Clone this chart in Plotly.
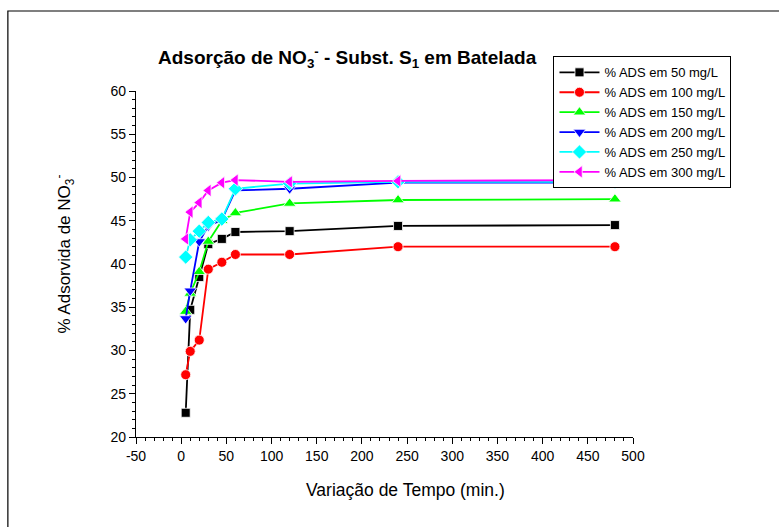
import plotly.graph_objects as go

# Data
tempo = [5, 10, 20, 30, 45, 60, 120, 240, 480]
ads_50 = [22.8, 34.7, 38.5, 42.3, 42.9, 43.7, 43.8, 44.4, 44.5]
ads_100 = [27.2, 29.9, 31.2, 39.4, 40.2, 41.1, 41.1, 42.0, 42.0]
ads_150 = [34.5, 36.6, 39.1, 42.6, 45.0, 45.9, 47.0, 47.4, 47.5]
ads_200 = [33.7, 36.9, 42.6, 44.4, 45.1, 48.5, 48.7, 49.4, 49.4]
ads_250 = [40.8, 42.8, 43.8, 44.8, 45.2, 48.7, 49.3, 49.5, 49.5]
ads_300 = [42.9, 46.0, 47.1, 48.5, 49.4, 49.7, 49.5, 49.6, 49.7]

series_names = ["% ADS em 50 mg/L", "% ADS em 100 mg/L", "% ADS em 150 mg/L",
                "% ADS em 200 mg/L", "% ADS em 250 mg/L", "% ADS em 300 mg/L"]
series_values = [ads_50, ads_100, ads_150, ads_200, ads_250, ads_300]
colors = ["#000000", "#FF0000", "#00FF00", "#0000FF", "#00FFFF", "#FF00FF"]
symbols = ["square", "circle", "triangle-up", "triangle-down", "diamond", "triangle-left"]
sizes = [9, 10, 11, 11, 11, 11]

x_tick_vals = [-50, 0, 50, 100, 150, 200, 250, 300, 350, 400, 450, 500]
x_tick_text = ["-50", "0", "50", "100", "150", "200", "250", "300", "350", "400", "450", "500"]
y_tick_vals = [20, 25, 30, 35, 40, 45, 50, 55, 60]

FONT = "Liberation Sans, Arial, sans-serif"

fig = go.Figure()
for name, vals, col, sym, sz in zip(series_names, series_values, colors, symbols, sizes):
    fig.add_trace(go.Scatter(
        x=tempo, y=vals, name=name, mode="lines+markers",
        line=dict(color=col, width=1.8),
        marker=dict(symbol=sym, size=sz, color=col, line=dict(color="white", width=0.8)),
    ))

axis_common = dict(
    showline=True, linecolor="black", linewidth=1.3, mirror=False,
    ticks="outside", ticklen=6, tickwidth=1.2, tickcolor="black",
    showgrid=False, zeroline=False,
    tickfont=dict(family=FONT, size=14, color="black"),
)

fig.update_xaxes(range=[-50, 500], tickmode="array", tickvals=x_tick_vals, ticktext=x_tick_text,
                 minor=dict(ticks="outside", ticklen=3, dtick=10, tick0=0, tickcolor="black", tickwidth=1),
                 **axis_common)
fig.update_yaxes(range=[20, 60], tickmode="array", tickvals=y_tick_vals,
                 minor=dict(ticks="outside", ticklen=3, dtick=1, tick0=0, tickcolor="black", tickwidth=1),
                 **axis_common)

fig.update_layout(
    width=779, height=527,
    margin=dict(l=136, r=146, t=91, b=90),
    paper_bgcolor="white", plot_bgcolor="white",
    showlegend=True,
    legend=dict(
        x=0.840, y=1.10, xanchor="left", yanchor="top",
        bordercolor="black", borderwidth=1, bgcolor="white",
        font=dict(family=FONT, size=13, color="black"),
        itemwidth=40, tracegroupgap=0,
    ),
    annotations=[
        dict(text="<b>Adsorção de NO<sub>3</sub><sup>-</sup> - Subst. S<sub>1</sub> em Batelada</b>",
             xref="paper", yref="paper", x=0.426, y=1.098, xanchor="center", yanchor="middle",
             showarrow=False, font=dict(family=FONT, size=19, color="black")),
        dict(text="Variação de Tempo (min.)",
             xref="paper", yref="paper", x=0.542, y=-0.153, xanchor="center", yanchor="middle",
             showarrow=False, font=dict(family=FONT, size=17.5, color="black")),
        dict(text="% Adsorvida de NO<sub>3</sub><sup>-</sup>",
             xref="paper", yref="paper", x=-0.143, y=0.53, xanchor="center", yanchor="middle",
             textangle=-90, showarrow=False, font=dict(family=FONT, size=17, color="black")),
    ],
    shapes=[
        dict(type="rect", xref="paper", yref="paper",
             x0=-0.2578, x1=1.35, y0=-0.35, y1=1.2312,
             line=dict(color="black", width=1.2), fillcolor="rgba(0,0,0,0)", layer="below"),
    ],
)

fig.write_html("out.html")
